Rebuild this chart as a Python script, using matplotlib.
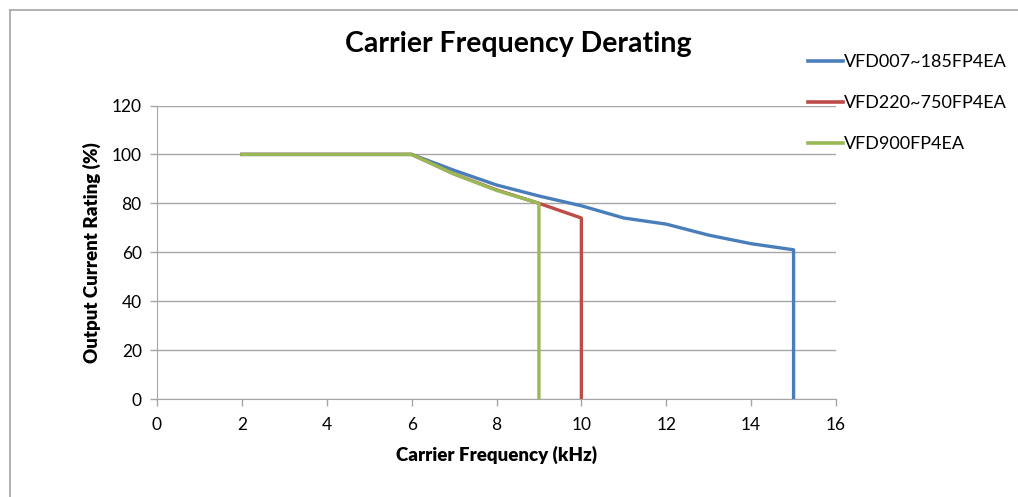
import numpy as np
import matplotlib
matplotlib.use('Agg')
import matplotlib.pyplot as plt
from matplotlib.lines import Line2D

plt.rcParams['font.family'] = ['Lato', 'DejaVu Sans']

# Derating curves (carrier frequency in kHz -> output current rating in %)
freq_a = [2, 3, 4, 5, 6, 7, 8, 9, 10, 11, 12, 13, 14, 15, 15]
rating_a = [100, 100, 100, 100, 100, 93.5, 87.5, 83, 79, 74, 71.5, 67, 63.5, 61, 0]

freq_b = [2, 3, 4, 5, 6, 7, 8, 9, 10, 10]
rating_b = [100, 100, 100, 100, 100, 92, 85.5, 80, 74, 0]

freq_c = [2, 3, 4, 5, 6, 7, 8, 9, 9]
rating_c = [100, 100, 100, 100, 100, 92, 85.3, 80, 0]

labels = ['VFD007~185FP4EA', 'VFD220~750FP4EA', 'VFD900FP4EA']
colors = ['#4a7ebb', '#be4b48', '#98b954']

W, H = 1018, 497
fig = plt.figure(figsize=(W / 100, H / 100), dpi=100)
ax = fig.add_axes([157 / W, (H - 399) / H, (836 - 157) / W, (399 - 105.5) / H])

for xs, ys, c in zip([freq_a, freq_b, freq_c], [rating_a, rating_b, rating_c], colors):
    ax.plot(xs, ys, color=c, linewidth=2.4, solid_joinstyle='round', zorder=3)

ax.set_xlim(0, 16)
ax.set_ylim(0, 120)
ax.set_xticks(np.arange(0, 17, 2))
ax.set_yticks(np.arange(0, 121, 20))
ax.yaxis.grid(True, color='#a6a6a6', linewidth=1)
ax.set_axisbelow(True)

for side in ['top', 'right']:
    ax.spines[side].set_visible(False)
for side in ['left', 'bottom']:
    ax.spines[side].set_color('#a6a6a6')
ax.tick_params(axis='both', colors='#a6a6a6', labelcolor='black', labelsize=12.5,
               length=5, width=1, direction='out')
ax.tick_params(axis='x', pad=8)
ax.tick_params(axis='y', pad=6)

ax.set_xlabel('Carrier Frequency (kHz)', fontsize=13.5, fontweight='heavy', labelpad=9)
ax.set_ylabel('Output Current Rating (%)', fontsize=13.5, fontweight='heavy', labelpad=8)

fig.text(518 / W, 1 - 44 / H, 'Carrier Frequency Derating', fontsize=20.5,
         fontweight='bold', ha='center', va='center')

handles = [Line2D([], [], color=c, linewidth=2.6) for c in colors]
fig.legend(handles, labels, loc='upper left', bbox_to_anchor=(792 / W, 1 - 38 / H),
           frameon=False, fontsize=13, handlelength=1.95, handletextpad=0.05,
           labelspacing=1.38)

# chart frame on the left and top edges
fig.add_artist(Line2D([9.5 / W, 9.5 / W], [0, 1 - 9.5 / H], color='#a6a6a6', linewidth=1.2,
                      transform=fig.transFigure))
fig.add_artist(Line2D([9.5 / W, 1], [1 - 9.5 / H, 1 - 9.5 / H], color='#a6a6a6', linewidth=1.2,
                      transform=fig.transFigure))

fig.savefig('out.png', dpi=100)
